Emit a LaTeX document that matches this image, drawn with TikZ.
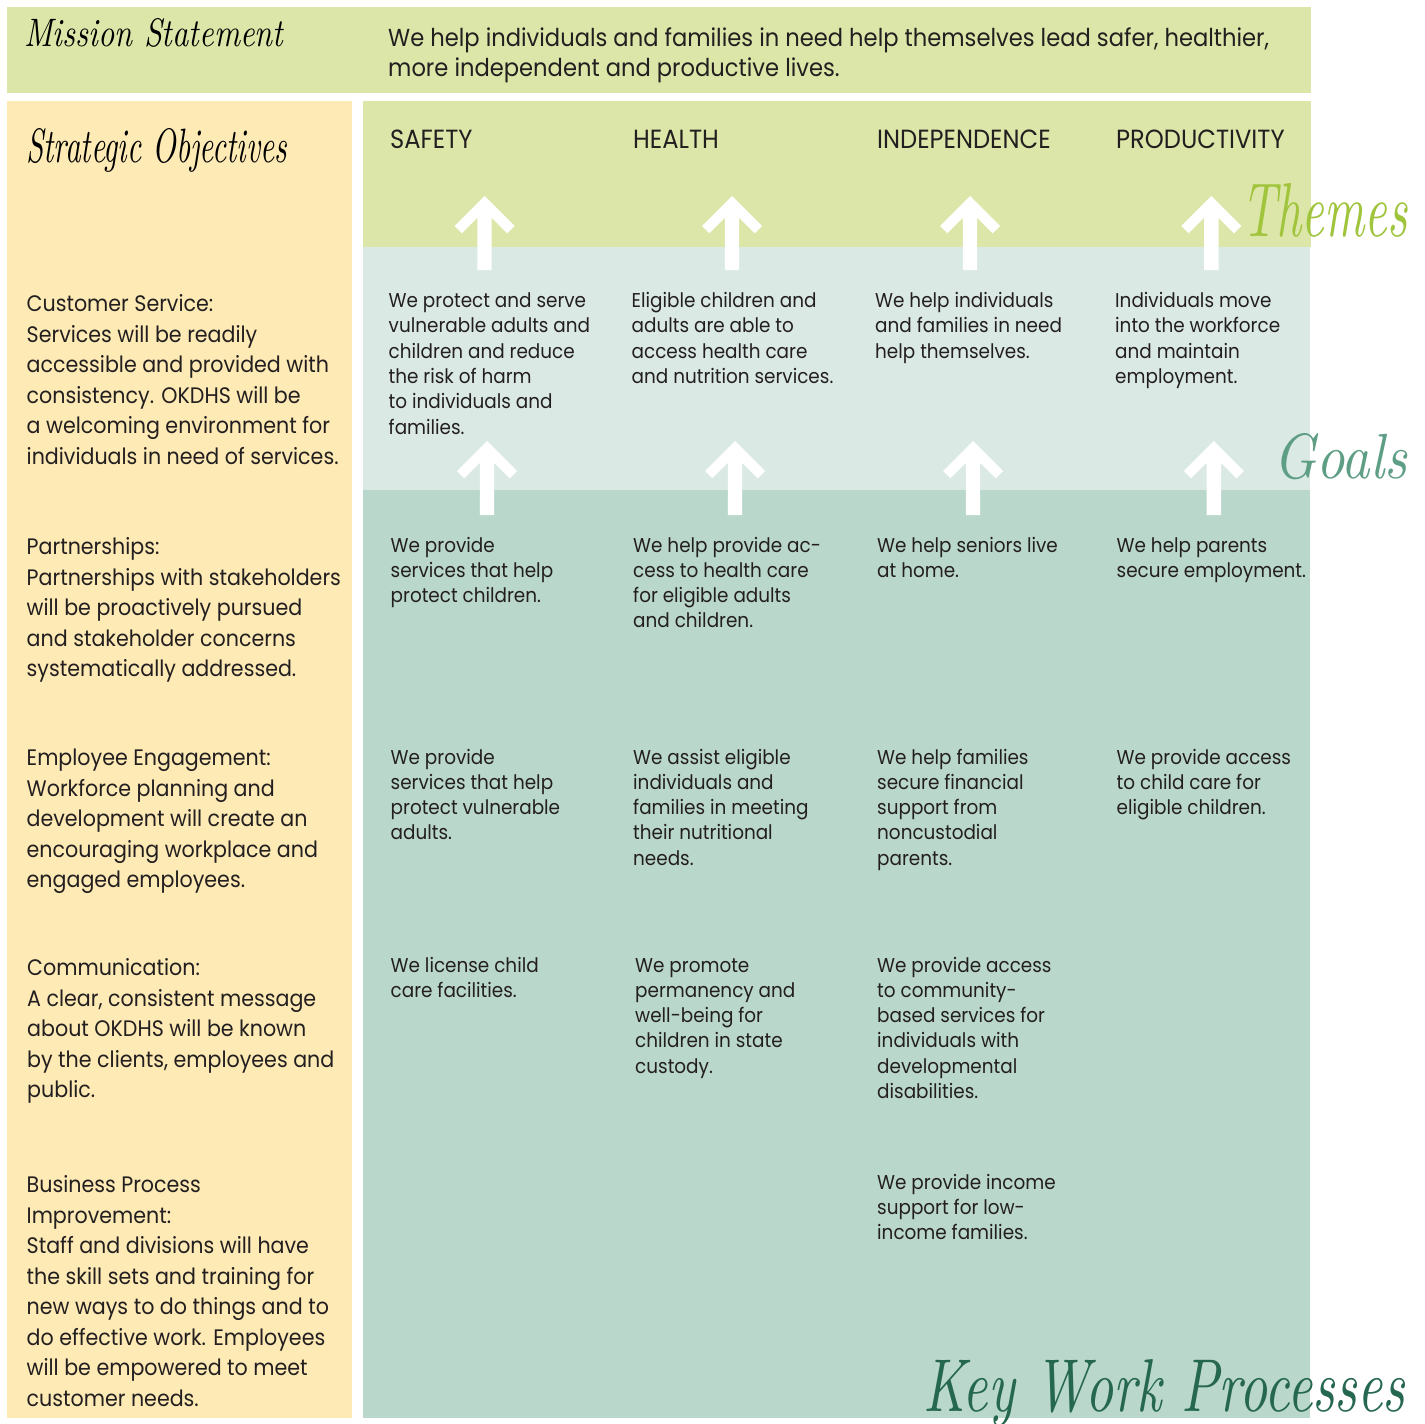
\documentclass[tikz,border=0pt]{standalone}
\usepackage{fontspec}
\usepackage{graphicx}
\setmainfont{Poppins}[FakeStretch=0.92]
\definecolor{ink}{HTML}{231F20}
\definecolor{limeband}{HTML}{DCE6A8}
\definecolor{sand}{HTML}{FDEAB5}
\definecolor{mistband}{HTML}{DBE9E4}
\definecolor{sageband}{HTML}{BAD7CB}
\definecolor{themegreen}{HTML}{A0C43C}
\definecolor{goalgreen}{HTML}{5E9E85}
\definecolor{kwpgreen}{HTML}{25674F}
\newcommand{\colfont}{\fontsize{20}{25.3}\selectfont}
\newcommand{\leftfont}{\fontsize{22.4}{30.5}\selectfont}
\newcommand{\ml}[1]{\vtop{\halign{##\hfil\cr#1\crcr}}}
\newcommand{\scriptlbl}[3]{\resizebox{#1pt}{#2pt}{\fontspec{Latin Modern Roman}\itshape #3}}
\begin{document}
\begin{tikzpicture}[x=1pt,y=-1pt,
  coltext/.style={anchor=base west,inner sep=0pt,font=\colfont,text=ink},
  lefttext/.style={anchor=base west,inner sep=0pt,font=\leftfont,text=ink},
  headtext/.style={anchor=base west,inner sep=0pt,font=\fontsize{26.3}{30}\selectfont,text=ink},
  scriptlabel/.style={anchor=base west,inner sep=0pt},
  uparrow/.pic={\fill[white] (0,0) -- (30,30) -- (22.7,37.3) -- (7.2,21.8) -- (7.2,74) -- (-7.2,74) -- (-7.2,21.8) -- (-22.7,37.3) -- (-30,30) -- cycle;}]
\useasboundingbox (0,0) rectangle (1425,1424);
\fill[white] (0,0) rectangle (1425,1424);
% bands
\fill[limeband] (7,7) rectangle (1311,93);
\fill[sand] (7,101) rectangle (352,1418);
\fill[limeband] (363,101) rectangle (1311,247);
\fill[mistband] (363,247) rectangle (1310,490);
\fill[sageband] (363,490) rectangle (1310,1418);
% arrows
\foreach \c in {484.5,732,970,1211.3} \pic at (\c,196) {uparrow};
\foreach \c in {487,735,973,1213.8} \pic at (\c,441) {uparrow};
% script labels
\node[scriptlabel] (mission) at (24,46) {\scriptlbl{259}{28}{Mission Statement}};
\node[scriptlabel] (strategic) at (26,162) {\scriptlbl{261}{34}{Strategic Objectives}};
\node[scriptlabel,text=themegreen] (themes) at (1241,236) {\scriptlbl{166}{53}{Themes}};
\node[scriptlabel,text=goalgreen] (goals) at (1273,478) {\scriptlbl{134}{45}{Goals}};
\node[scriptlabel,text=kwpgreen] (kwp) at (923,1411) {\scriptlbl{482}{52}{Key Work Processes}};
% mission
\node[anchor=base west,inner sep=0pt,font=\fontsize{24.6}{30}\selectfont,text=ink] (missiontext) at (388,46.5)
 {\ml{We help individuals and families in need help themselves lead safer, healthier,\cr more independent and productive lives.}};
% headers
\node[headtext] (safety) at (390,148.5) {SAFETY};
\node[headtext] (health) at (633,148.5) {HEALTH};
\node[headtext] (indep) at (877,148.5) {INDEPENDENCE};
\node[headtext] (prod) at (1116,148.5) {PRODUCTIVITY};
% left column
\node[lefttext] (cs) at (26.5,311.5) {\ml{Customer Service:\cr Services will be readily\cr accessible and provided with\cr consistency. OKDHS will be\cr a welcoming environment for\cr individuals in need of services.}};
\node[lefttext] (ps) at (26.5,554.5) {\ml{Partnerships:\cr Partnerships with stakeholders\cr will be proactively pursued\cr and stakeholder concerns\cr systematically addressed.}};
\node[lefttext] (ee) at (26.5,765.5) {\ml{Employee Engagement:\cr Workforce planning and\cr development will create an\cr encouraging workplace and\cr engaged employees.}};
\node[lefttext] (cm) at (27,975.5) {\ml{Communication:\cr A clear, consistent message\cr about OKDHS will be known\cr by the clients, employees and\cr public.}};
\node[lefttext] (bp) at (26.5,1192.5) {\ml{Business Process\cr Improvement:\cr Staff and divisions will have\cr the skill sets and training for\cr new ways to do things and to\cr do effective work. Employees\cr will be empowered to meet\cr customer needs.}};
% goals row
\node[coltext] (g1) at (388.5,307.5) {\ml{We protect and serve\cr vulnerable adults and\cr children and reduce\cr the risk of harm\cr to individuals and\cr families.}};
\node[coltext] (g2) at (631.5,307.5) {\ml{Eligible children and\cr adults are able to\cr access health care\cr and nutrition services.}};
\node[coltext] (g3) at (875,307.5) {\ml{We help individuals\cr and families in need\cr help themselves.}};
\node[coltext] (g4) at (1115,307.5) {\ml{Individuals move\cr into the workforce\cr and maintain\cr employment.}};
% key work processes rows
\node[coltext] (k11) at (390.5,552) {\ml{We provide\cr services that help\cr protect children.}};
\node[coltext] (k12) at (633,552) {\ml{We help provide ac-\cr cess to health care\cr for eligible adults\cr and children.}};
\node[coltext] (k13) at (877,552) {\ml{We help seniors live\cr at home.}};
\node[coltext] (k14) at (1116.5,552) {\ml{We help parents\cr secure employment.}};
\node[coltext] (k21) at (390.5,764) {\ml{We provide\cr services that help\cr protect vulnerable\cr adults.}};
\node[coltext] (k22) at (633,764) {\ml{We assist eligible\cr individuals and\cr families in meeting\cr their nutritional\cr needs.}};
\node[coltext] (k23) at (877,764) {\ml{We help families\cr secure financial\cr support from\cr noncustodial\cr parents.}};
\node[coltext] (k24) at (1116.5,764) {\ml{We provide access\cr to child care for\cr eligible children.}};
\node[coltext] (k31) at (390.5,972) {\ml{We license child\cr care facilities.}};
\node[coltext] (k32) at (635,972) {\ml{We promote\cr permanency and\cr well-being for\cr children in state\cr custody.}};
\node[coltext] (k33) at (877,972) {\ml{We provide access\cr to community-\cr based services for\cr individuals with\cr developmental\cr disabilities.}};
\node[coltext] (k43) at (877,1189) {\ml{We provide income\cr support for low-\cr income families.}};
\end{tikzpicture}
\end{document}
